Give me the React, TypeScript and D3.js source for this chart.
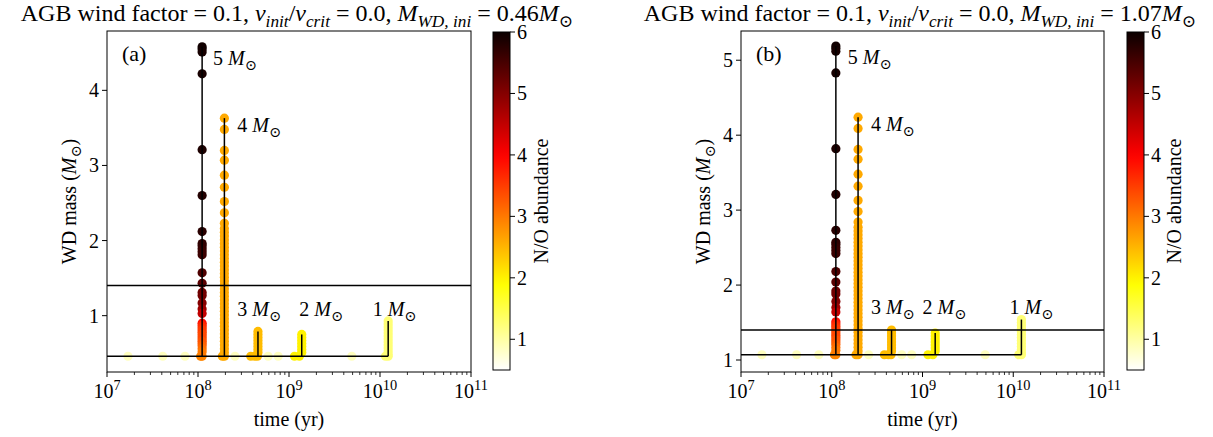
import React from "react";
import * as d3 from "d3";

// ---------------- data ----------------
const starLabels = ["5", "4", "3", "2", "1"];
const starTimes = [1.11e8, 1.95e8, 4.56e8, 1.38e9, 1.23e10];
const initialMassA = 0.46;
const initialMassB = 1.07;
const chandraMass = 1.4;

// accreted mass (M_WD - M_WD,ini) and N/O abundance of the points on each vertical track
const dm5 = [4.12, 4.09, 4.05, 3.76, 2.75, 2.14, 1.66, 1.5, 1.47, 1.43, 1.39, 1.35, 1.11, 0.97, 0.85, 0.81, 0.71, 0.63, 0.57, 0.44, 0.41, 0.38, 0.35, 0.32, 0.29, 0.26, 0.23, 0.2, 0.17, 0.14, 0.1, 0.06];
const no5 = [5.95, 5.95, 5.9, 5.9, 5.85, 5.8, 5.75, 5.7, 5.7, 5.65, 5.6, 5.6, 5.45, 5.35, 5.2, 5.15, 5.0, 4.8, 4.5, 3.9, 3.7, 3.6, 3.5, 3.5, 3.4, 3.4, 3.4, 3.3, 3.3, 3.2, 3.1, 3.0];
const dm4 = [3.17, 3.02, 2.74, 2.61, 2.41, 2.25, 2.06, 1.91, 1.77, 1.7, 1.65, 1.6, 1.55, 1.5, 1.45, 1.4, 1.35, 1.3, 1.25, 1.2, 1.15, 1.1, 1.05, 1.0, 0.95, 0.9, 0.85, 0.8, 0.75, 0.7, 0.65, 0.6, 0.55, 0.5, 0.45, 0.4, 0.35, 0.3, 0.25, 0.2, 0.15, 0.1, 0.05];
const no4 = [2.6, 2.6, 2.6, 2.6, 2.6, 2.6, 2.6, 2.6, 2.6, 2.6, 2.6, 2.6, 2.6, 2.6, 2.6, 2.6, 2.6, 2.6, 2.6, 2.6, 2.6, 2.6, 2.6, 2.6, 2.6, 2.6, 2.6, 2.6, 2.6, 2.6, 2.6, 2.6, 2.6, 2.6, 2.6, 2.6, 2.6, 2.6, 2.6, 2.6, 2.6, 2.6, 2.6];
const dm3 = [0.33, 0.29, 0.25, 0.21, 0.17, 0.13, 0.09, 0.05];
const no3 = [2.45, 2.45, 2.45, 2.45, 2.45, 2.45, 2.45, 2.45];
const dm2 = [0.29, 0.25, 0.21, 0.17, 0.13, 0.09, 0.05];
const no2 = [2.0, 2.0, 2.0, 2.0, 2.0, 2.0, 2.0];
const dm1 = [0.47, 0.43, 0.39, 0.35, 0.31, 0.27, 0.23, 0.19, 0.15, 0.11, 0.07, 0.03];
const no1 = [1.25, 1.25, 1.25, 1.25, 1.25, 1.25, 1.25, 1.25, 1.25, 1.25, 1.25, 1.25];

// points lying on the initial-mass line (before accretion starts)
const baseTimes = [1.07e8, 1.11e8, 1.85e8, 1.95e8, 3.8e8, 4.2e8, 4.5e8, 1.15e9, 1.3e9, 1.15e10, 1.23e10];
const baseNO = [2.9, 2.9, 2.6, 2.6, 2.45, 2.45, 2.45, 2.0, 2.0, 1.25, 1.25];
const paleTimes = [1.7e7, 4.1e7, 7.2e7, 2.55e8, 5.9e8, 7.6e8, 4.9e9];
const paleNO = [0.85, 0.85, 0.85, 0.85, 0.85, 0.85, 0.85];

// label anchors (time, accreted mass)
const labelTimesA = [1.46e8, 2.7e8, 2.7e8, 1.3e9, 8.3e9];
const labelTimesB = [1.5e8, 2.7e8, 2.7e8, 1.0e9, 9.1e9];
const labelDm = [3.88, 2.98, 0.54, 0.54, 0.54];

const xTickExps = [7, 8, 9, 10, 11];
const yTicksA = [1, 2, 3, 4];
const yTicksB = [1, 2, 3, 4, 5];
const cbTicks = [1, 2, 3, 4, 5, 6];

// ---------------- style ----------------
const FONT = "'Liberation Serif', 'DejaVu Serif', serif";
const FS = 20;

function hot(x: number) {
  const r = x < 0.365079 ? 0.0416 + (1 - 0.0416) * (x / 0.365079) : 1;
  const g = x < 0.365079 ? 0 : x < 0.746032 ? (x - 0.365079) / (0.746032 - 0.365079) : 1;
  const b = x < 0.746032 ? 0 : (x - 0.746032) / (1 - 0.746032);
  return d3.rgb(r * 255, g * 255, b * 255).formatHex();
}
const norm = d3.scaleLinear().domain([0.5, 6]).range([1, 0]).clamp(true);
const colorOf = (v: number) => hot(norm(v));

type Seg = { t: string; i?: boolean; sub?: boolean; sup?: boolean };

function Rich(props: { segs: Seg[]; x: number; y: number; size: number; anchor?: string; transform?: string }) {
  const { segs, x, y, size, anchor, transform } = props;
  let cur = 0;
  return (
    <text x={x} y={y} fontSize={size} textAnchor={anchor || "start"} transform={transform} fontFamily={FONT} fill="#000">
      {segs.map((s, k) => {
        const target = s.sub ? size * 0.25 : s.sup ? -size * 0.42 : 0;
        const dy = target - cur;
        cur = target;
        return (
          <tspan key={k} dy={dy} fontStyle={s.i ? "italic" : "normal"} fontSize={s.sub || s.sup ? size * 0.72 : size}>
            {s.t}
          </tspan>
        );
      })}
    </text>
  );
}

const SUN = "\u2299";

function Panel(props: {
  left: number; right: number; top: number; bottom: number; yDomain: [number, number];
  m0: number; yTicks: number[]; labelTimes: number[]; tag: string; cbX: number; titleX: number; ylabelX: number; cbLabelX: number;
}) {
  const { left, right, top, bottom, yDomain, m0, yTicks, labelTimes, tag, cbX, titleX, ylabelX, cbLabelX } = props;
  const x = d3.scaleLog().domain([1e7, 1e11]).range([left, right]);
  const y = d3.scaleLinear().domain(yDomain).range([bottom, top]);
  const minor = x.ticks().filter((t) => Math.abs(Math.log10(t) - Math.round(Math.log10(t))) > 1e-6);

  const tracks = [
    { dm: dm5, no: no5 },
    { dm: dm4, no: no4 },
    { dm: dm3, no: no3 },
    { dm: dm2, no: no2 },
    { dm: dm1, no: no1 },
  ];
  const pts: { t: number; m: number; v: number }[] = [];
  paleTimes.forEach((t, i) => pts.push({ t, m: m0, v: paleNO[i] }));
  baseTimes.forEach((t, i) => pts.push({ t, m: m0, v: baseNO[i] }));
  tracks.forEach((tr, s) => tr.dm.forEach((d, i) => pts.push({ t: starTimes[s], m: m0 + d, v: tr.no[i] })));

  const cbY = d3.scaleLinear().domain([0.5, 6]).range([370, 32]);
  const gradId = "grad" + tag;
  const stops = d3.range(0, 41).map((k) => 0.5 + (5.5 * k) / 40);
  const clipId = "clip" + tag;

  return (
    <g>
      <defs>
        <clipPath id={clipId}>
          <rect x={left} y={top} width={right - left} height={bottom - top} />
        </clipPath>
        <linearGradient id={gradId} x1="0" y1="1" x2="0" y2="0">
          {stops.map((v, k) => (
            <stop key={k} offset={(v - 0.5) / 5.5} stopColor={colorOf(v)} />
          ))}
        </linearGradient>
      </defs>

      {/* title */}
      <Rich
        x={titleX}
        y={21}
        size={24}
        anchor="middle"
        segs={[
          { t: "AGB wind factor = 0.1, " },
          { t: "v", i: true },
          { t: "init", i: true, sub: true },
          { t: "/" },
          { t: "v", i: true },
          { t: "crit", i: true, sub: true },
          { t: " = 0.0, " },
          { t: "M", i: true },
          { t: "WD, ini", i: true, sub: true },
          { t: " = " + m0.toFixed(2) },
          { t: "M", i: true },
          { t: SUN, sub: true },
        ]}
      />

      {/* points */}
      <g clipPath={`url(#${clipId})`}>
        {pts.map((p, k) => (
          <circle key={k} cx={x(p.t)} cy={y(p.m)} r={4.6} fill={colorOf(p.v)} />
        ))}
        {/* lines */}
        <line x1={left} x2={right} y1={y(chandraMass)} y2={y(chandraMass)} stroke="#000" strokeWidth={1.5} />
        <line x1={left} x2={x(starTimes[4])} y1={y(m0)} y2={y(m0)} stroke="#000" strokeWidth={1.5} />
        {tracks.map((tr, s) => (
          <line key={s} x1={x(starTimes[s])} x2={x(starTimes[s])} y1={y(m0)} y2={y(m0 + d3.max(tr.dm)!)} stroke="#000" strokeWidth={1.5} />
        ))}
      </g>

      {/* star labels */}
      {starLabels.map((lab, s) => (
        <Rich key={s} x={x(labelTimes[s])} y={y(m0 + labelDm[s])} size={FS} segs={[{ t: lab + " " }, { t: "M", i: true }, { t: SUN, sub: true }]} />
      ))}
      <text x={left + 15} y={61} fontSize={22} fontFamily={FONT}>({tag})</text>

      {/* frame */}
      <rect x={left} y={top} width={right - left} height={bottom - top} fill="none" stroke="#000" strokeWidth={1} />

      {/* x axis */}
      {xTickExps.map((e) => (
        <g key={e}>
          <line x1={x(10 ** e)} x2={x(10 ** e)} y1={bottom} y2={bottom + 5} stroke="#000" />
          <Rich x={x(10 ** e)} y={bottom + 26} size={FS} anchor="middle" segs={[{ t: "10" }, { t: String(e), sup: true }]} />
        </g>
      ))}
      {minor.map((t, k) => (
        <line key={k} x1={x(t)} x2={x(t)} y1={bottom} y2={bottom + 3} stroke="#000" strokeWidth={0.8} />
      ))}
      <text x={(left + right) / 2} y={426} fontSize={FS} fontFamily={FONT} textAnchor="middle">time (yr)</text>

      {/* y axis */}
      {yTicks.map((t) => (
        <g key={t}>
          <line x1={left - 5} x2={left} y1={y(t)} y2={y(t)} stroke="#000" />
          <text x={left - 8} y={y(t) + 7} fontSize={FS} fontFamily={FONT} textAnchor="end">{t}</text>
        </g>
      ))}
      <Rich
        x={0}
        y={0}
        size={FS}
        anchor="middle"
        transform={`translate(${ylabelX},${(top + bottom) / 2}) rotate(-90)`}
        segs={[{ t: "WD mass (" }, { t: "M", i: true }, { t: SUN, sub: true }, { t: ")" }]}
      />

      {/* colorbar */}
      <rect x={cbX} y={32} width={17} height={338} fill={`url(#${gradId})`} stroke="#000" strokeWidth={1} />
      {cbTicks.map((t) => (
        <g key={t}>
          <line x1={cbX + 17} x2={cbX + 22} y1={cbY(t)} y2={cbY(t)} stroke="#000" />
          <text x={cbX + 24} y={cbY(t) + 7} fontSize={FS} fontFamily={FONT}>{t}</text>
        </g>
      ))}
      <text
        transform={`translate(${cbLabelX},${(32 + 370) / 2}) rotate(-90)`}
        fontSize={FS}
        fontFamily={FONT}
        textAnchor="middle"
      >
        N/O abundance
      </text>
    </g>
  );
}

export default function App() {
  return (
    <svg width={1213} height={437} style={{ position: "absolute", left: 0, top: 0, background: "#fff" }}>
      <rect x={0} y={0} width={1213} height={437} fill="#fff" />
      <Panel left={107} right={471} top={31} bottom={372} yDomain={[0.25, 4.79]} m0={initialMassA} yTicks={yTicksA}
        labelTimes={labelTimesA} tag="a" cbX={493} titleX={297} ylabelX={76} cbLabelX={548} />
      <Panel left={741} right={1104} top={31} bottom={372} yDomain={[0.84, 5.39]} m0={initialMassB} yTicks={yTicksB}
        labelTimes={labelTimesB} tag="b" cbX={1127} titleX={920} ylabelX={710} cbLabelX={1181} />
    </svg>
  );
}
